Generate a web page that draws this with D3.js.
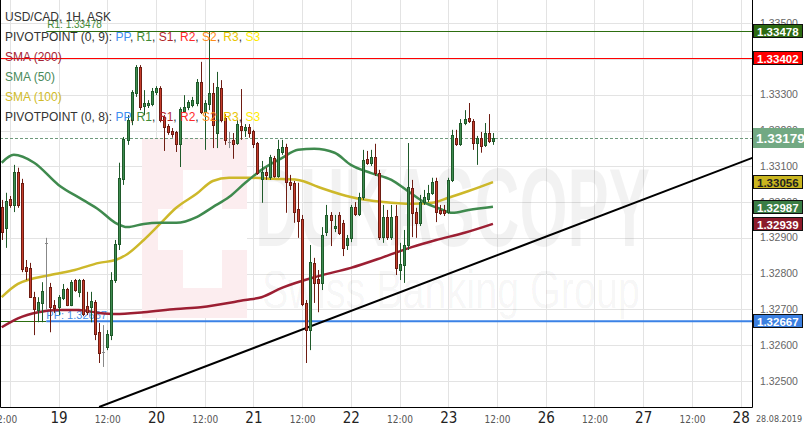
<!DOCTYPE html>
<html><head><meta charset="utf-8">
<script src="https://cdn.jsdelivr.net/npm/d3@7"></script>
<style>
body{margin:0;background:#fff;}
svg{display:block;font-family:"Liberation Sans",Arial,sans-serif;}
</style></head><body>
<svg id="chart" width="804" height="432"></svg>
<script>
// ---------------- DATA ----------------
const title = "USD/CAD, 1H, ASK";
// hours counted from 19.08 00:00 (weekend removed); first candle opens 18.08 10:00
const firstHour = -14;
const open = [1.32986,1.32928,1.33009,1.32992,1.33084,1.33054,1.32818,1.32816,1.32734,1.32698,1.32718,1.32886,1.32762,1.32712,1.32706,1.32732,1.32757,1.32712,1.32782,1.32749,1.32782,1.32709,1.32706,1.32720,1.32636,1.32581,1.32594,1.32628,1.32782,1.32883,1.33065,1.33174,1.33229,1.33305,1.33378,1.33268,1.33271,1.33274,1.33307,1.33319,1.33238,1.33213,1.33199,1.33196,1.33163,1.33254,1.33265,1.33271,1.33277,1.33336,1.33252,1.33274,1.33305,1.33193,1.33319,1.33235,1.33168,1.33174,1.33165,1.33213,1.33202,1.33210,1.33199,1.33165,1.33065,1.33084,1.33070,1.33123,1.33073,1.33140,1.33154,1.33056,1.33054,1.32981,1.32953,1.32718,1.32642,1.32830,1.32785,1.32774,1.32916,1.32964,1.32928,1.32964,1.32942,1.32880,1.32900,1.32986,1.32967,1.33014,1.33121,1.33110,1.33126,1.33081,1.32902,1.32958,1.32902,1.32961,1.32810,1.32824,1.32880,1.33040,1.32972,1.32942,1.33000,1.33009,1.33026,1.33059,1.32978,1.32978,1.32972,1.33062,1.33180,1.33163,1.33221,1.33235,1.33227,1.33165,1.33180,1.33160,1.33193,1.33171];
const high = [1.33006,1.33026,1.33017,1.33104,1.33096,1.33065,1.32838,1.32830,1.32749,1.32734,1.32776,1.32900,1.32774,1.32726,1.32740,1.32771,1.32760,1.32782,1.32785,1.32785,1.32785,1.32749,1.32749,1.32726,1.32662,1.32656,1.32642,1.32804,1.32894,1.33110,1.33182,1.33243,1.33313,1.33383,1.33383,1.33313,1.33285,1.33319,1.33324,1.33324,1.33243,1.33218,1.33207,1.33199,1.33265,1.33299,1.33285,1.33294,1.33344,1.33392,1.33285,1.33476,1.33333,1.33364,1.33341,1.33246,1.33196,1.33193,1.33229,1.33316,1.33218,1.33218,1.33202,1.33168,1.33115,1.33096,1.33132,1.33129,1.33174,1.33174,1.33163,1.33076,1.33059,1.33054,1.32964,1.32726,1.32880,1.32844,1.32810,1.32930,1.32992,1.32972,1.32964,1.32972,1.32950,1.32908,1.32992,1.33000,1.33026,1.33146,1.33143,1.33146,1.33163,1.33090,1.32992,1.32978,1.32992,1.32992,1.32886,1.32922,1.33165,1.33062,1.32984,1.33020,1.33034,1.33048,1.33068,1.33068,1.32992,1.32992,1.33068,1.33202,1.33202,1.33232,1.33257,1.33277,1.33232,1.33185,1.33196,1.33221,1.33246,1.33193];
const low = [1.32894,1.32872,1.32984,1.32972,1.32984,1.32804,1.32782,1.32732,1.32628,1.32664,1.32664,1.32698,1.32636,1.32690,1.32684,1.32726,1.32709,1.32709,1.32749,1.32734,1.32681,1.32684,1.32664,1.32614,1.32550,1.32539,1.32586,1.32614,1.32774,1.32866,1.33048,1.33160,1.33215,1.33294,1.33257,1.33243,1.33263,1.33268,1.33299,1.33223,1.33143,1.33188,1.33180,1.33140,1.33098,1.33249,1.33257,1.33265,1.33268,1.33246,1.33146,1.33257,1.33151,1.33151,1.33223,1.33160,1.33151,1.33121,1.33160,1.33174,1.33182,1.33180,1.33151,1.33076,1.32998,1.33062,1.33062,1.33068,1.33068,1.33132,1.32970,1.33034,1.32942,1.32900,1.32709,1.32550,1.32586,1.32718,1.32692,1.32754,1.32905,1.32877,1.32916,1.32908,1.32849,1.32866,1.32888,1.32961,1.32961,1.33006,1.33104,1.33101,1.33073,1.32894,1.32886,1.32894,1.32894,1.32796,1.32782,1.32774,1.32866,1.32902,1.32900,1.32933,1.32992,1.33000,1.33020,1.32944,1.32964,1.32961,1.32967,1.33056,1.33157,1.33157,1.33215,1.33221,1.33146,1.33104,1.33138,1.33154,1.33165,1.33160];
const close = [1.32916,1.33003,1.32992,1.33084,1.32992,1.32813,1.32807,1.32734,1.32701,1.32720,1.32751,1.32886,1.32706,1.32704,1.32734,1.32757,1.32712,1.32776,1.32754,1.32782,1.32687,1.32692,1.32723,1.32631,1.32578,1.32581,1.32631,1.32782,1.32883,1.33068,1.33177,1.33229,1.33307,1.33378,1.33265,1.33277,1.33277,1.33310,1.33319,1.33229,1.33210,1.33196,1.33191,1.33163,1.33260,1.33265,1.33279,1.33285,1.33336,1.33252,1.33277,1.33305,1.33215,1.33322,1.33229,1.33174,1.33168,1.33163,1.33218,1.33202,1.33210,1.33193,1.33163,1.33081,1.33084,1.33076,1.33126,1.33073,1.33149,1.33154,1.33056,1.33048,1.32972,1.32947,1.32715,1.32642,1.32832,1.32774,1.32774,1.32908,1.32964,1.32950,1.32933,1.32914,1.32872,1.32900,1.32986,1.32967,1.33014,1.33118,1.33110,1.33126,1.33081,1.32902,1.32958,1.32902,1.32958,1.32816,1.32827,1.32880,1.33042,1.32970,1.32942,1.33000,1.33014,1.33026,1.33056,1.32972,1.32970,1.32970,1.33062,1.33188,1.33163,1.33221,1.33232,1.33227,1.33165,1.33180,1.33157,1.33193,1.33171,1.33179];

const sma50Hours = [-14,-11,-6,0,6,10,14,17,21,25,29,34,38,42,46,50,55,59,63,68,72,77,82,86,90,94,97,101,107];
const sma50 = [1.33110,1.33132,1.33110,1.33048,1.33006,1.32978,1.32942,1.32930,1.32939,1.32942,1.32942,1.32958,1.32986,1.33014,1.33054,1.33090,1.33123,1.33146,1.33149,1.33138,1.33104,1.33081,1.33062,1.33031,1.33000,1.32981,1.32970,1.32978,1.32987];
const sma100Hours = [-14,-10,-2,4,10,14,17,21,25,29,34,38,42,47,53,59,64,72,80,87,92,96,101,107];
const sma100 = [1.32734,1.32771,1.32796,1.32810,1.32830,1.32838,1.32855,1.32894,1.32939,1.32984,1.33023,1.33059,1.33068,1.33068,1.33065,1.33062,1.33042,1.33014,1.33000,1.32995,1.32998,1.33012,1.33031,1.33056];
const sma200Hours = [-14,-10,-5,0,5,10,14,21,29,35,46,50,55,64,72,80,87,93,100,107];
const sma200 = [1.32650,1.32675,1.32692,1.32698,1.32698,1.32690,1.32687,1.32692,1.32701,1.32706,1.32726,1.32734,1.32760,1.32793,1.32816,1.32846,1.32874,1.32894,1.32914,1.32939];

const trendHours = [10, 171];
const trendValues = [1.32427, 1.33124];

const pivotStartHour = -3;
const pivotR1 = 1.33478, pivotR2 = 1.33402, pivotPP = 1.32667;
const lastPrice = 1.33179;

const priceTicks = [1.325,1.326,1.327,1.328,1.329,1.330,1.331,1.332,1.333,1.334,1.335];
const xTicks = [-12,0,12,24,36,48,60,72,84,96,108,120,132,144,156,168];
const xTickLabels = ["12:00","19","12:00","20","12:00","21","12:00","22","12:00","23","12:00","26","12:00","27","12:00","28"];
const dateLabel = "28.08.2019";

const legendLines = [
  [{t:"USD/CAD, 1H, ASK",c:"#333"}],
  [{t:"PIVOTPOINT (0, 9): ",c:"#333"},{t:"PP",c:"#3d8ef0"},{t:", ",c:"#333"},{t:"R1",c:"#3f8a35"},{t:", ",c:"#333"},{t:"S1",c:"#b3262a"},{t:", ",c:"#333"},{t:"R2",c:"#ff2a2a"},{t:", ",c:"#333"},{t:"S2",c:"#ff8c1a"},{t:", ",c:"#333"},{t:"R3",c:"#e8c400"},{t:", ",c:"#333"},{t:"S3",c:"#ffec00"}],
  [{t:"SMA (200)",c:"#a52535"}],
  [{t:"SMA (50)",c:"#4a8a5a"}],
  [{t:"SMA (100)",c:"#d1bb28"}],
  [{t:"PIVOTPOINT (0, 8): ",c:"#333"},{t:"PP",c:"#3d8ef0"},{t:", ",c:"#333"},{t:"R1",c:"#3f8a35"},{t:", ",c:"#333"},{t:"S1",c:"#b3262a"},{t:", ",c:"#333"},{t:"R2",c:"#ff2a2a"},{t:", ",c:"#333"},{t:"S2",c:"#ff8c1a"},{t:", ",c:"#333"},{t:"R3",c:"#e8c400"},{t:", ",c:"#333"},{t:"S3",c:"#ffec00"}]
];

// ---------------- CHART ----------------
const PW = 752, PH = 407;
const svg = d3.select("#chart");
const x = d3.scaleLinear().domain([-14.41, 170.8]).range([0, PW]);
const y = d3.scaleLinear().domain([1.33565, 1.32427]).range([0, PH]);

svg.append("rect").attr("width",804).attr("height",432).attr("fill","#fff");
svg.append("defs").append("clipPath").attr("id","clip")
  .append("rect").attr("x",0).attr("y",0).attr("width",PW).attr("height",PH);
const plot = svg.append("g").attr("clip-path","url(#clip)");

// grid
plot.selectAll(".hg").data(priceTicks).join("line")
  .attr("x1",0).attr("x2",PW)
  .attr("y1",d=>Math.round(y(d))+0.5).attr("y2",d=>Math.round(y(d))+0.5)
  .attr("stroke","#e3e3e3").attr("stroke-width",1);
plot.selectAll(".vg").data(xTicks).join("line")
  .attr("y1",0).attr("y2",PH)
  .attr("x1",d=>Math.round(x(d))+0.5).attr("x2",d=>Math.round(x(d))+0.5)
  .attr("stroke","#e3e3e3").attr("stroke-width",1);

// watermark
const wm = plot.append("g");
wm.append("rect").attr("x",142).attr("y",138).attr("width",105).attr("height",180).attr("fill","#fcedef");
wm.append("rect").attr("x",183).attr("y",170).attr("width",39).attr("height",118).attr("fill","#fff");
wm.append("rect").attr("x",158).attr("y",209).attr("width",89).attr("height",41).attr("fill","#fff");
wm.append("text").attr("x",255).attr("y",246).attr("font-size",112).attr("font-weight","bold")
  .attr("textLength",395).attr("lengthAdjust","spacingAndGlyphs")
  .attr("fill","#000").attr("fill-opacity",0.05).text("DUKASCOPY");
wm.append("text").attr("x",262).attr("y",308).attr("font-size",54)
  .attr("textLength",378).attr("lengthAdjust","spacingAndGlyphs")
  .attr("fill","#000").attr("fill-opacity",0.045).text("Swiss Banking Group");

// legend
const lg = svg.append("g");
legendLines.forEach((line,i)=>{
  const t = lg.append("text").attr("x",5).attr("y",21+i*20).attr("font-size",12);
  line.forEach(s=>t.append("tspan").attr("fill",s.c).text(s.t));
});

// pivot lines
const yy = v => Math.round(y(v))+0.5;
plot.append("line").attr("x1",0).attr("x2",PW).attr("y1",yy(pivotR2)).attr("y2",yy(pivotR2))
  .attr("stroke","#ff0000").attr("stroke-width",1);
plot.append("line").attr("x1",x(pivotStartHour)).attr("x2",PW).attr("y1",yy(pivotR1)).attr("y2",yy(pivotR1))
  .attr("stroke","#2d6e10").attr("stroke-width",1);
plot.append("line").attr("x1",0).attr("x2",x(pivotStartHour)).attr("y1",yy(pivotPP)).attr("y2",yy(pivotPP))
  .attr("stroke","#2d6e10").attr("stroke-width",1);
plot.append("line").attr("x1",x(pivotStartHour)).attr("x2",PW).attr("y1",y(pivotPP)).attr("y2",y(pivotPP))
  .attr("stroke","#3b82e6").attr("stroke-width",2);
plot.append("text").attr("x",x(pivotStartHour)+1).attr("y",y(pivotR1)-3).attr("font-size",10)
  .attr("fill","#3f8a35").text("R1: " + pivotR1.toFixed(5));
plot.append("text").attr("x",x(pivotStartHour)).attr("y",y(pivotPP)-2).attr("font-size",11)
  .attr("fill","#4a8ee6").text("PP: " + pivotPP.toFixed(5));
plot.append("line").attr("x1",0).attr("x2",PW).attr("y1",yy(lastPrice)).attr("y2",yy(lastPrice))
  .attr("stroke","#6f9a7c").attr("stroke-width",1).attr("stroke-dasharray","3,2");

// moving averages
const lineGen = d3.line().x(d=>x(d[0])).y(d=>y(d[1])).curve(d3.curveMonotoneX);
const maDefs = [
  {h:sma200Hours, v:sma200, c:"#9c1f33"},
  {h:sma100Hours, v:sma100, c:"#cdb82a"},
  {h:sma50Hours,  v:sma50,  c:"#3f8a4e"}
];
maDefs.forEach(m=>{
  plot.append("path").datum(m.h.map((h,i)=>[h,m.v[i]]))
    .attr("d",lineGen).attr("fill","none").attr("stroke",m.c).attr("stroke-width",2.5);
});

// trend line
plot.append("path").datum(trendHours.map((h,i)=>[h,trendValues[i]]))
  .attr("d",d3.line().x(d=>x(d[0])).y(d=>y(d[1])))
  .attr("stroke","#000").attr("stroke-width",2).attr("fill","none");

// candles
const candles = open.map((o,i)=>({h:firstHour+i,o,hi:high[i],lo:low[i],c:close[i]}));
const cg = plot.append("g");
candles.forEach(d=>{
  const cx = Math.round(x(d.h));
  const up = d.c > d.o, flat = d.c === d.o;
  const edge = flat ? "#888" : (up ? "#1f5a2a" : "#6e1c12");
  const fill = flat ? "#888" : (up ? "#3e8c50" : "#c63d2c");
  cg.append("line").attr("x1",cx+0.5).attr("x2",cx+0.5)
    .attr("y1",y(d.hi)).attr("y2",y(d.lo)).attr("stroke",edge).attr("stroke-width",1);
  const top = y(Math.max(d.o,d.c)), bot = y(Math.min(d.o,d.c));
  if (flat) {
    cg.append("line").attr("x1",cx-1).attr("x2",cx+2).attr("y1",Math.round(top)+0.5).attr("y2",Math.round(top)+0.5)
      .attr("stroke",edge).attr("stroke-width",1);
  } else {
    cg.append("rect").attr("x",cx-0.5).attr("width",2)
      .attr("y",Math.round(top)+0.5).attr("height",Math.max(1,Math.round(bot-top)))
      .attr("fill",fill).attr("stroke",edge).attr("stroke-width",1);
  }
});

// frame
svg.append("path").attr("d",`M0.5,0 V${PH+0.5} H${PW+0.5} V0`).attr("fill","none").attr("stroke","#000").attr("stroke-width",1);

// right price axis
const ya = svg.append("g").attr("transform",`translate(${PW+8},0)`)
  .call(d3.axisRight(y).tickValues(priceTicks).tickSize(0).tickPadding(0).tickFormat(d=>d.toFixed(5)));
ya.select(".domain").remove();
ya.selectAll("text").attr("font-size",10.5).attr("fill","#666").attr("font-family","'Liberation Sans',Arial,sans-serif").attr("dy","0.3em");

// bottom time axis
const narrow = "'Liberation Sans Narrow','Arial Narrow','DejaVu Sans Condensed',sans-serif";
const xa = svg.append("g").attr("transform",`translate(0,${PH})`)
  .call(d3.axisBottom(x).tickValues(xTicks).tickSize(0).tickPadding(0).tickFormat((d,i)=>xTickLabels[i]));
xa.select(".domain").remove();
xa.selectAll("text").attr("y",16).attr("dy",0)
  .attr("font-family",narrow)
  .attr("font-size",(d,i)=>xTickLabels[i].includes(":")?10:15)
  .attr("fill",(d,i)=>xTickLabels[i].includes(":")?"#555":"#222")
  .attr("text-anchor",(d,i)=>i===0?"end":"middle")
  .attr("x",(d,i)=>i===0?7:0);
svg.append("text").attr("x",756).attr("y",422).attr("font-size",9.5)
  .attr("textLength",46).attr("lengthAdjust","spacingAndGlyphs")
  .attr("font-family",narrow)
  .attr("fill","#555").text(dateLabel);

// badges
const badges = [
  {v:pivotR1, bg:"#2d6a12", fg:"#fff"},
  {v:pivotR2, bg:"#ff0000", fg:"#fff"},
  {v:sma100[sma100.length-1], bg:"#c9b51f", fg:"#222"},
  {v:sma50[sma50.length-1], bg:"#3a7d44", fg:"#fff"},
  {v:sma200[sma200.length-1], bg:"#8c1a2b", fg:"#fff"},
  {v:pivotPP, bg:"#3b7fe0", fg:"#fff"}
];
badges.forEach(b=>{
  const cy = Math.round(y(b.v));
  svg.append("rect").attr("x",PW+1.5).attr("y",cy-6.5).attr("width",49).attr("height",13)
    .attr("fill",b.bg).attr("stroke","#111").attr("stroke-width",1);
  svg.append("text").attr("x",PW+5).attr("y",cy+4.5).attr("font-size",11.5).attr("font-weight","bold")
    .attr("fill",b.fg).text(b.v.toFixed(5));
});
{
  const cy = Math.round(y(lastPrice));
  svg.append("rect").attr("x",PW+1).attr("y",cy-10).attr("width",51).attr("height",20).attr("fill","#72a983");
  svg.append("text").attr("x",PW+4).attr("y",cy+5).attr("font-size",13.5).attr("font-weight","bold")
    .attr("fill","#fff").text(lastPrice.toFixed(5));
}
</script>
</body></html>
